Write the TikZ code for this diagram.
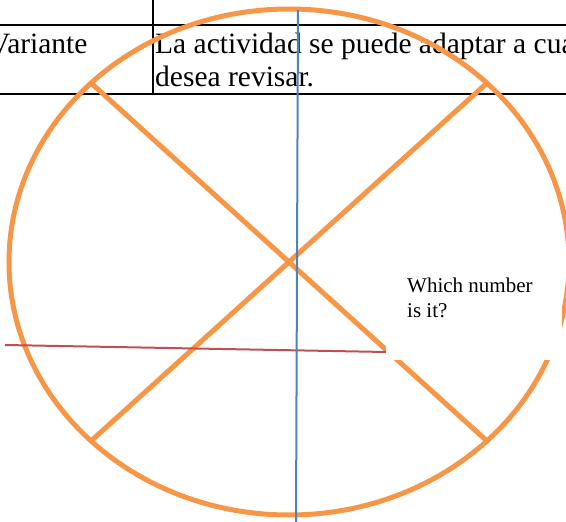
\documentclass[tikz,border=0pt]{standalone}
\usepackage{fontspec}
\setmainfont{Liberation Serif}
\definecolor{ofcorange}{HTML}{F79646}
\definecolor{ofcblue}{HTML}{4F81BD}
\definecolor{ofcred}{HTML}{C0504D}
\begin{document}
\begin{tikzpicture}[x=1pt,y=-1pt,
  tblline/.style={draw=black,line width=1.6pt},
  bigtext/.style={inner sep=0pt,anchor=base west,font=\fontsize{29.5}{33}\selectfont,align=left},
  smalltext/.style={inner sep=0pt,anchor=base west,font=\fontsize{21}{25}\selectfont,align=left},
  orangeline/.style={draw=ofcorange,line width=5pt},
  blueline/.style={draw=ofcblue,line width=2pt},
  redline/.style={draw=ofcred,line width=2pt},
  coverbox/.style={fill=white,draw=none}]
\useasboundingbox (0,0) rectangle (566,522);
\begin{scope}
\clip (0,0) rectangle (566,522);
% table
\draw[tblline] (0,25) -- (566,25);
\draw[tblline] (0,94) -- (566,94);
\draw[tblline] (153,0) -- (153,94);
\node[bigtext] (variante) at (-11,53) {Variante};
\node[bigtext] (actividad) at (155,86) {La actividad se puede adaptar a cua\\desea revisar.};
% circle and cross
\coordinate (c) at (289,262);
\draw[orangeline] (c) ellipse [x radius=280, y radius=253];
\coordinate (tl) at (91,83);
\coordinate (tr) at (487,83);
\coordinate (bl) at (91,441);
\coordinate (br) at (487,441);
\draw[orangeline] (tl) -- (br);
\draw[orangeline] (tr) -- (bl);
% red line
\coordinate (r1) at (5,345);
\coordinate (r2) at (386,352);
\draw[redline] (r1) -- (r2);
% blue line
\coordinate (b1) at (298,10);
\coordinate (b2) at (296,524);
\draw[blueline] (b1) -- (b2);
% white text box
\path[coverbox] (386,262) rectangle (562,360);
\node[smalltext] (question) at (407,317) {Which number\\is it?};
\end{scope}
\end{tikzpicture}
\end{document}
